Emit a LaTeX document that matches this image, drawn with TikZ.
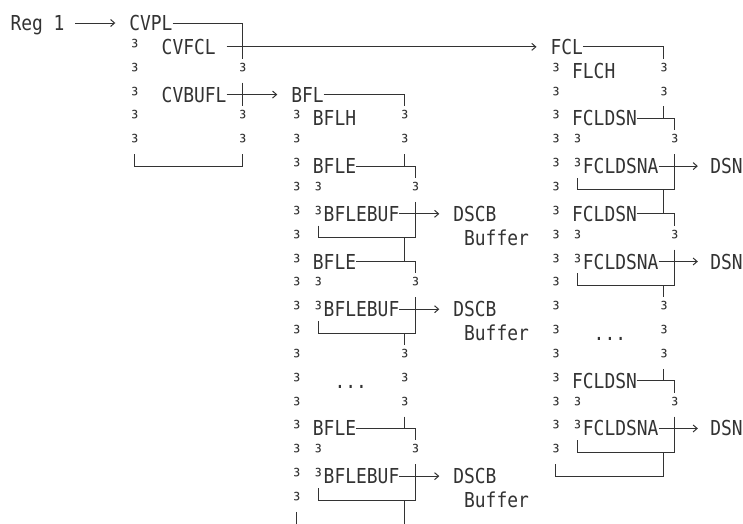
\documentclass[tikz,border=0pt]{standalone}
\usepackage{fontspec}
\newfontfamily\monof[FakeStretch=0.871]{DejaVu Sans Mono}
\usetikzlibrary{arrows.meta}
\definecolor{ink}{HTML}{333333}
\begin{document}
\begin{tikzpicture}[x=10.8pt,y=-23.85pt,
  txt/.style={font=\monof\fontsize{20.6pt}{24pt}\selectfont, text=ink, inner sep=0pt, outer sep=0pt, anchor=west, text height=15pt, text depth=0pt},
  sup/.style={txt},
  boxline/.style={draw=ink, line width=1pt},
  arr/.style={boxline, -{Straight Barb[length=4pt,width=7pt]}, shorten >=14pt}]
\path[use as bounding box] (-0.97222,-0.96436) rectangle (67.8241,20.9644);

% ---------- text nodes ----------
\node[txt] (reg) at (0,0) {Reg 1};
\node[txt] (cvpl) at (11,0) {CVPL};
\node[txt] (cvfcl) at (14,1) {CVFCL};
\node[txt] (cvbufl) at (14,3) {CVBUFL};

\node[txt] (bfl) at (26,3) {BFL};
\node[txt] (bflh) at (28,4) {BFLH};
\node[txt] (bfle1) at (28,6) {BFLE};
\node[txt] (bflebuf1) at (29,8) {BFLEBUF};
\node[txt] (dscb1) at (41,8) {DSCB};
\node[txt] (buf1) at (42,9) {Buffer};
\node[txt] (bfle2) at (28,10) {BFLE};
\node[txt] (bflebuf2) at (29,12) {BFLEBUF};
\node[txt] (dscb2) at (41,12) {DSCB};
\node[txt] (buf2) at (42,13) {Buffer};
\node[txt] (bdots) at (30,15) {...};
\node[txt] (bfle3) at (28,17) {BFLE};
\node[txt] (bflebuf3) at (29,19) {BFLEBUF};
\node[txt] (dscb3) at (41,19) {DSCB};
\node[txt] (buf3) at (42,20) {Buffer};

\node[txt] (fcl) at (50,1) {FCL};
\node[txt] (flch) at (52,2) {FLCH};
\node[txt] (fcldsn1) at (52,4) {FCLDSN};
\node[txt] (fcldsna1) at (53,6) {FCLDSNA};
\node[txt] (dsn1) at (64.8,6) {DSN};
\node[txt] (fcldsn2) at (52,8) {FCLDSN};
\node[txt] (fcldsna2) at (53,10) {FCLDSNA};
\node[txt] (dsn2) at (64.8,10) {DSN};
\node[txt] (fdots) at (54,13) {...};
\node[txt] (fcldsn3) at (52,15) {FCLDSN};
\node[txt] (fcldsna3) at (53,17) {FCLDSNA};
\node[txt] (dsn3) at (64.8,17) {DSN};

% ---------- superscript bar marks ----------
\foreach \c/\r in {11/1,11/2,11/3,11/4,11/5,21/2,21/4,21/5,
                   28/7,28/8,28/11,28/12,28/18,28/19,
                   36/4,36/5,36/14,36/15,36/16,37/7,37/11,37/18,
                   52/5,52/6,52/9,52/10,52/16,52/17,
                   60/2,60/3,60/12,60/13,60/14,61/5,61/9,61/16}
  \node[sup] (s\c-\r) at (\c,\r) {³};
\foreach \r in {4,...,20} \node[sup] (sb\r) at (26,\r) {³};
\foreach \r in {2,...,18} \node[sup] (sf\r) at (50,\r) {³};

% ---------- arrows ----------
\draw[arr, shorten <=10.8pt] (reg) -- (cvpl);
\draw[arr, shorten <=10.8pt] (cvfcl) -- (fcl);
\draw[arr] (cvbufl) -- (bfl);
\draw[arr] (bflebuf1) -- (dscb1);
\draw[arr] (bflebuf2) -- (dscb2);
\draw[arr] (bflebuf3) -- (dscb3);
\draw[arr, shorten >=12.5pt] (fcldsna1) -- (dsn1);
\draw[arr, shorten >=12.5pt] (fcldsna2) -- (dsn2);
\draw[arr, shorten >=12.5pt] (fcldsna3) -- (dsn3);

% ---------- CVPL box ----------
\draw[boxline] (cvpl.east) -| (21.5,1.5);
\draw[boxline] (21.5,2.5) -- (21.5,3.5);
\draw[boxline] (21.5,5.5) |- (11.5,6) -- (11.5,5.5);

% ---------- BFL box ----------
\draw[boxline] (bfl.east) -| (36.5,3.5);
\draw[boxline] (36.5,5.5) -- (36.5,6);
\draw[boxline] (bfle1.east) -| (37.5,6.5);
\draw[boxline] (37.5,7.5) -- (37.5,8.5);
\draw[boxline] (28.5,8.5) |- (37.5,9) -- (37.5,8.5);
\draw[boxline] (36.5,9) -- (36.5,10);
\draw[boxline] (bfle2.east) -| (37.5,10.5);
\draw[boxline] (37.5,11.5) -- (37.5,12.5);
\draw[boxline] (28.5,12.5) |- (37.5,13) -- (37.5,12.5);
\draw[boxline] (36.5,13) -- (36.5,13.5);
\draw[boxline] (36.5,16.5) -- (36.5,17);
\draw[boxline] (bfle3.east) -| (37.5,17.5);
\draw[boxline] (37.5,18.5) -- (37.5,19.5);
\draw[boxline] (28.5,19.5) |- (37.5,20) -- (37.5,19.5);
\draw[boxline] (36.5,20) -- (36.5,21.5);
\draw[boxline] (26.5,20.5) -- (26.5,21.5);

% ---------- FCL box ----------
\draw[boxline] (fcl.east) -| (60.5,1.5);
\draw[boxline] (60.5,3.5) -- (60.5,4);
\draw[boxline] (fcldsn1.east) -| (61.5,4.5);
\draw[boxline] (61.5,5.5) -- (61.5,6.5);
\draw[boxline] (52.5,6.5) |- (61.5,7) -- (61.5,6.5);
\draw[boxline] (60.5,7) -- (60.5,8);
\draw[boxline] (fcldsn2.east) -| (61.5,8.5);
\draw[boxline] (61.5,9.5) -- (61.5,10.5);
\draw[boxline] (52.5,10.5) |- (61.5,11) -- (61.5,10.5);
\draw[boxline] (60.5,11) -- (60.5,11.5);
\draw[boxline] (60.5,14.5) -- (60.5,15);
\draw[boxline] (fcldsn3.east) -| (61.5,15.5);
\draw[boxline] (61.5,16.5) -- (61.5,17.5);
\draw[boxline] (52.5,17.5) |- (61.5,18) -- (61.5,17.5);
\draw[boxline] (60.5,18) -- (60.5,19) -| (50.5,18.5);
\end{tikzpicture}
\end{document}
